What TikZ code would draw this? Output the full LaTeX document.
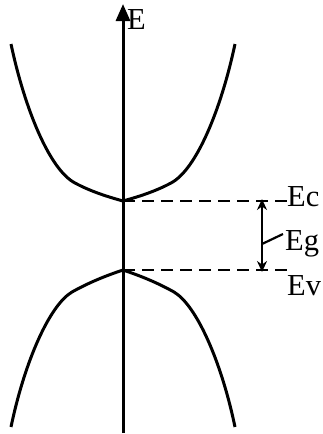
\documentclass[tikz,border=0pt]{standalone}
\usepackage{fontspec}
\setmainfont{Liberation Serif}
\usepackage{tikz}
\usetikzlibrary{
  arrows.meta,
  positioning
}
\tikzset{
  band/.style={
    line width=3pt,
    line join=round
  },
  axisline/.style={
    -{Triangle[length=17pt,width=14pt]},
    line width=3pt
  },
  level/.style={
    line width=2.2pt,
    dash pattern=on 12pt off 7pt
  },
  gap/.style={
    {Stealth[length=11pt,width=10pt]}-{Stealth[length=11pt,width=10pt]},
    line width=2.4pt
  },
  lbl/.style={
    font=\fontsize{30.5}{34}\selectfont,
    inner sep=0pt
  }
}

\begin{document}
\begin{tikzpicture}[x=1pt, y=-1pt]
  \useasboundingbox (0,0) rectangle (322,434);
  \coordinate (bottom) at (123,433);
  \coordinate (top) at (123,4);
  \coordinate (cmin) at (123,201);
  \coordinate (vmax) at (123,270);
  \coordinate (cend) at (288,201);
  \coordinate (vend) at (288,270);
  \coordinate (gtop) at (262,201);
  \coordinate (gbot) at (262,270);
  \coordinate (gmid) at (262,244);
  \coordinate (lead) at (283,234);

  % energy axis
  \draw[axisline] (bottom) -- (top);
  \node[lbl, anchor=base west] (elabel) at (127,29) {E};

  % conduction band
  \draw[band] (11,44) .. controls (25,110) and (50,170) .. (75,183)
    .. controls (90,191) and (105,196) .. (cmin)
    .. controls (141,196) and (156,191) .. (171,183)
    .. controls (196,170) and (221,110) .. (235,44);
  % valence band
  \draw[band] (11,427) .. controls (25,360) and (50,305) .. (72,292)
    .. controls (88,283) and (105,276) .. (vmax)
    .. controls (141,276) and (158,283) .. (174,292)
    .. controls (196,305) and (221,360) .. (235,427);

  % band edges
  \draw[level] (cmin) -- (cend);
  \draw[level] (vmax) -- (vend);
  \node[lbl, anchor=base west] (eclabel) at (287,206) {Ec};
  \node[lbl, anchor=base west] (evlabel) at (287,295) {Ev};

  % gap
  \draw[gap] ([yshift=2pt]gtop) -- ([yshift=-2pt]gbot);
  \draw[line width=2.2pt] (gmid) -- (lead);
  \node[lbl, anchor=base west] (eglabel) at (285,250) {Eg};
\end{tikzpicture}
\end{document}
